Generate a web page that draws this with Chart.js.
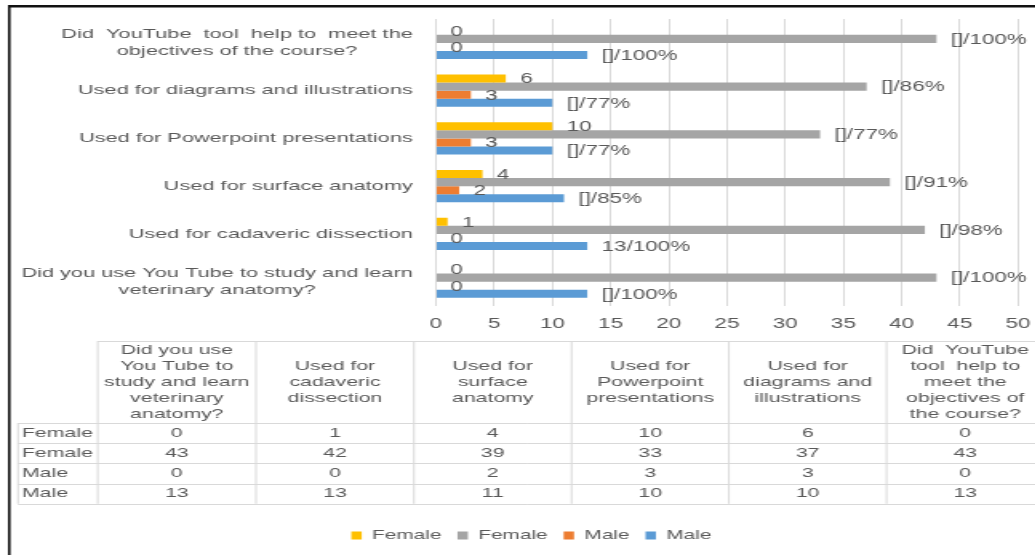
<!DOCTYPE html>
<html>
<head>
<meta charset="utf-8">
<script src="https://cdn.jsdelivr.net/npm/chart.js@4.4.0/dist/chart.umd.min.js"></script>
<style>
html, body { margin: 0; padding: 0; background: #fff; overflow: hidden; }
#myChart { position: absolute; left: 0; top: 0; transform: scaleX(1.6); transform-origin: 0 0; }
</style>
</head>
<body>
<canvas id="myChart" width="647" height="555"></canvas>
<script>
// survey questions, in table order (bottom to top on the chart)
var categories = [
  "Did you use You Tube to study and learn veterinary anatomy?",
  "Used for cadaveric dissection",
  "Used for surface anatomy",
  "Used for Powerpoint presentations",
  "Used for diagrams and illustrations",
  "Did  YouTube  tool  help to  meet the objectives of the course?"
];
var axisLines = [
  ["Did you use You Tube to study and learn", "veterinary anatomy?"],
  ["Used for cadaveric dissection"],
  ["Used for surface anatomy"],
  ["Used for Powerpoint presentations"],
  ["Used for diagrams and illustrations"],
  ["Did  YouTube  tool  help to  meet the", "objectives of the course?"]
];
var headerLines = [
  ["Did you use", "You Tube to", "study and learn", "veterinary", "anatomy?"],
  ["Used for", "cadaveric", "dissection"],
  ["Used for", "surface", "anatomy"],
  ["Used for", "Powerpoint", "presentations"],
  ["Used for", "diagrams and", "illustrations"],
  ["Did  YouTube", "tool  help to", "meet the", "objectives of", "the course?"]
];

var seriesNames = ["Female", "Female", "Male", "Male"];
var femaleYellow = [0, 1, 4, 10, 6, 0];
var femaleGray = [43, 42, 39, 33, 37, 43];
var maleOrange = [0, 0, 2, 3, 3, 0];
var maleBlue = [13, 13, 11, 10, 10, 13];
var grayLabels = ["[]/100%", "[]/98%", "[]/91%", "[]/77%", "[]/86%", "[]/100%"];
var blueLabels = ["[]/100%", "13/100%", "[]/85%", "[]/77%", "[]/77%", "[]/100%"];
var xMin = 0, xMax = 50, xStep = 5;

var colors = ["#FFC000", "#A5A5A5", "#ED7D31", "#5B9BD5"];
var textColor = "#595959";
var FONT = "'Liberation Sans', Arial, sans-serif";

function rev(a) { return a.slice().reverse(); }

// draw category names, lines centred on each other, block right aligned
var axisText = {
  id: "axisText",
  afterDraw: function (chart) {
    var ctx = chart.ctx;
    var y = chart.scales.y;
    var lines = rev(axisLines);
    var right = chart.chartArea.left - 14.5;
    var lh = 16.5;
    ctx.save();
    ctx.font = "13.6px " + FONT;
    ctx.fillStyle = textColor;
    ctx.textAlign = "center";
    ctx.textBaseline = "middle";
    lines.forEach(function (ls, i) {
      var w = 0;
      ls.forEach(function (l) { w = Math.max(w, ctx.measureText(l).width); });
      var cy = y.getPixelForTick(i) - (ls.length - 1) * lh / 2;
      ls.forEach(function (l, k) { ctx.fillText(l, right - w / 2, cy + k * lh); });
    });
    ctx.restore();
  }
};

var barLabels = {
  id: "barLabels",
  afterDatasetsDraw: function (chart) {
    var ctx = chart.ctx;
    ctx.save();
    ctx.font = "14px " + FONT;
    ctx.fillStyle = textColor;
    ctx.textAlign = "left";
    ctx.textBaseline = "middle";
    chart.data.datasets.forEach(function (ds, i) {
      chart.getDatasetMeta(i).data.forEach(function (bar, j) {
        ctx.fillText(ds.valueText[j], bar.x + 9, bar.y + 1);
      });
    });
    ctx.restore();
  }
};

// data table under the axis + outer frame
var dataTable = {
  id: "dataTable",
  afterDraw: function (chart) {
    var ctx = chart.ctx;
    var colX = [11.25, 61.1, 160, 258.75, 357.25, 455.6, 554.1, 652.5];
    var headTop = 341, headBot = 423, rowH = 20.2;
    var rows = [femaleYellow, femaleGray, maleOrange, maleBlue];
    var bottom = headBot + rows.length * rowH;
    var W = chart.width;
    ctx.save();
    ctx.strokeStyle = "#D9D9D9";
    ctx.lineWidth = 1;
    ctx.beginPath();
    ctx.moveTo(colX[1], headTop + 0.5); ctx.lineTo(W, headTop + 0.5);
    for (var r = 0; r <= rows.length; r++) {
      var yy = Math.round(headBot + r * rowH) + 0.5;
      ctx.moveTo(colX[0], yy); ctx.lineTo(W, yy);
    }
    ctx.moveTo(colX[0], headBot); ctx.lineTo(colX[0], bottom);
    for (var c = 1; c < colX.length; c++) {
      ctx.moveTo(colX[c], headTop); ctx.lineTo(colX[c], bottom);
    }
    ctx.stroke();

    ctx.fillStyle = textColor;
    ctx.font = "13.3px " + FONT;
    ctx.textBaseline = "middle";
    ctx.textAlign = "center";
    var hc = (headTop + headBot) / 2;
    headerLines.forEach(function (ls, i) {
      var cx = (colX[i + 1] + colX[i + 2]) / 2;
      var y0 = hc - (ls.length - 1) * 16 / 2;
      ls.forEach(function (l, k) { ctx.fillText(l, cx, y0 + k * 16); });
    });
    rows.forEach(function (vals, r) {
      var cy = headBot + r * rowH + rowH / 2;
      ctx.textAlign = "left";
      ctx.fillText(seriesNames[r], colX[0] + 2.5, cy);
      ctx.textAlign = "center";
      vals.forEach(function (v, i) {
        ctx.fillText(String(v), (colX[i + 1] + colX[i + 2]) / 2, cy);
      });
    });

    // frame
    ctx.fillStyle = "#111";
    ctx.fillRect(5, 5, 1.6, chart.height);
    ctx.fillRect(5, 5, W, 2.5);
    ctx.restore();
  }
};

var ctx = document.getElementById("myChart").getContext("2d");
var myChart = new Chart(ctx, {
  type: "bar",
  data: {
    labels: rev(categories),
    datasets: [
      { label: seriesNames[0], data: rev(femaleYellow), backgroundColor: colors[0], valueText: rev(femaleYellow).map(String) },
      { label: seriesNames[1], data: rev(femaleGray), backgroundColor: colors[1], valueText: rev(grayLabels) },
      { label: seriesNames[2], data: rev(maleOrange), backgroundColor: colors[2], valueText: rev(maleOrange).map(String) },
      { label: seriesNames[3], data: rev(maleBlue), backgroundColor: colors[3], valueText: rev(blueLabels) }
    ]
  },
  options: {
    indexAxis: "y",
    responsive: false,
    animation: false,
    categoryPercentage: 0.68,
    barPercentage: 1,
    layout: { padding: { top: 19, right: 10.75, left: 28, bottom: 3 } },
    scales: {
      x: {
        min: xMin, max: xMax,
        ticks: { stepSize: xStep, color: textColor, font: { size: 14, family: FONT }, padding: 10 },
        grid: { color: "#D9D9D9", drawTicks: false },
        border: { display: false },
        afterFit: function (s) { s.height = 213.5; s.paddingLeft = 0; s.paddingRight = 0; }
      },
      y: {
        ticks: { display: false },
        grid: { display: false },
        border: { display: true, color: "#D9D9D9" },
        afterFit: function (s) { s.width = 244.5; }
      }
    },
    plugins: {
      legend: {
        position: "bottom",
        labels: { boxWidth: 6.5, boxHeight: 8, padding: 10, color: textColor, font: { size: 13, family: FONT } }
      },
      tooltip: { enabled: false }
    }
  },
  plugins: [axisText, barLabels, dataTable]
});
</script>
</body>
</html>
